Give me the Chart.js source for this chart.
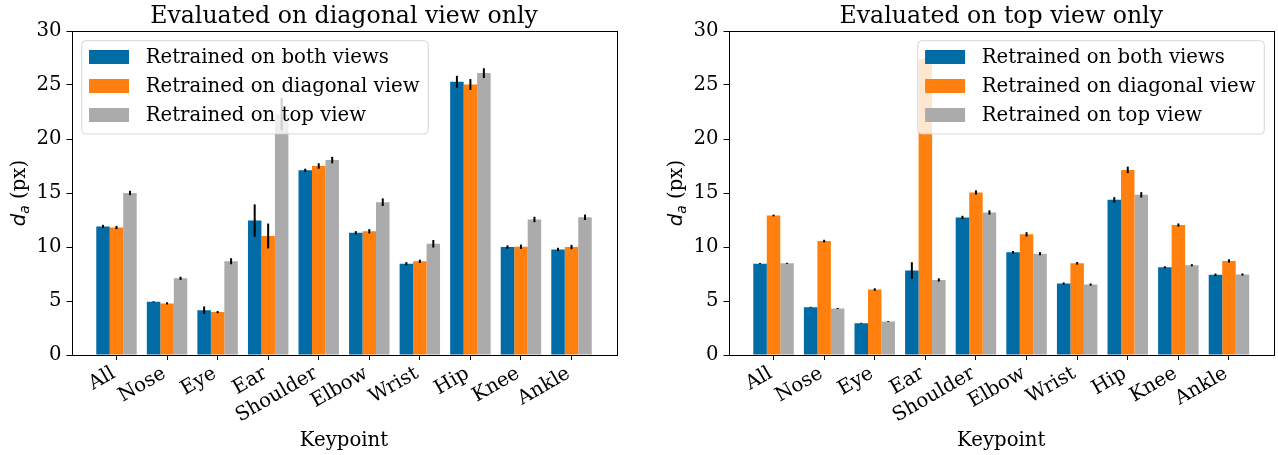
<!DOCTYPE html>
<html>
<head>
<meta charset="utf-8">
<script src="https://cdn.jsdelivr.net/npm/chart.js@4.4.1/dist/chart.umd.min.js"></script>
<style>
  html, body { margin: 0; padding: 0; background: #ffffff; }
  #wrap { display: flex; width: 1278px; height: 455px; }
  canvas { display: block; }
</style>
</head>
<body>
<div id="wrap">
  <canvas id="diagChart" width="639" height="455"></canvas>
  <canvas id="topChart" width="639" height="455"></canvas>
</div>
<script>
// Keypoint categories and series
const keypoints = ['All', 'Nose', 'Eye', 'Ear', 'Shoulder', 'Elbow', 'Wrist', 'Hip', 'Knee', 'Ankle'];
const seriesNames = ['Retrained on both views', 'Retrained on diagonal view', 'Retrained on top view'];
const seriesColors = ['#006BA4', '#FF800E', '#ABABAB'];
const yTickValues = [0, 5, 10, 15, 20, 25, 30];

// Evaluated on diagonal view only: mean d_a (px) and error half-widths
const diagBoth     = [11.9, 4.92, 4.15, 12.45, 17.1, 11.32, 8.45, 25.3, 10.0, 9.78];
const diagBothErr  = [0.15, 0.05, 0.35, 1.5, 0.15, 0.15, 0.15, 0.55, 0.15, 0.15];
const diagDiag     = [11.8, 4.78, 3.97, 11.02, 17.5, 11.45, 8.68, 25.05, 10.02, 10.0];
const diagDiagErr  = [0.15, 0.1, 0.1, 1.15, 0.25, 0.2, 0.15, 0.5, 0.2, 0.2];
const diagTop      = [15.0, 7.1, 8.68, 22.3, 18.05, 14.15, 10.3, 26.1, 12.55, 12.75];
const diagTopErr   = [0.2, 0.15, 0.28, 1.5, 0.3, 0.35, 0.35, 0.45, 0.25, 0.25];

// Evaluated on top view only
const topBoth      = [8.46, 4.43, 2.95, 7.82, 12.74, 9.51, 6.62, 14.37, 8.12, 7.42];
const topBothErr   = [0.05, 0.04, 0.04, 0.77, 0.15, 0.12, 0.1, 0.25, 0.1, 0.12];
const topDiag      = [12.92, 10.55, 6.06, 27.4, 15.05, 11.17, 8.49, 17.14, 12.03, 8.71];
const topDiagErr   = [0.08, 0.12, 0.12, 0.1, 0.2, 0.2, 0.12, 0.3, 0.15, 0.15];
const topTop       = [8.49, 4.31, 3.11, 6.95, 13.2, 9.38, 6.52, 14.83, 8.31, 7.45];
const topTopErr    = [0.05, 0.05, 0.04, 0.15, 0.2, 0.15, 0.1, 0.25, 0.1, 0.1];

const SERIF = '"DejaVu Serif", "Liberation Serif", serif';
const FS = 19.7;
const TITLE_FS = 23.6;

// Error bars, frame, rotated category labels, titles and the boxed legend
const figurePlugin = {
  id: 'figure',
  afterDatasetsDraw(chart) {
    const ctx = chart.ctx;
    const ys = chart.scales.y;
    ctx.save();
    ctx.strokeStyle = '#000';
    ctx.lineWidth = 2;
    chart.data.datasets.forEach((ds, di) => {
      const meta = chart.getDatasetMeta(di);
      meta.data.forEach((bar, i) => {
        const v = ds.data[i].y, e = ds.errors[i];
        ctx.beginPath();
        ctx.moveTo(bar.x, ys.getPixelForValue(v - e));
        ctx.lineTo(bar.x, ys.getPixelForValue(v + e));
        ctx.stroke();
      });
    });
    ctx.restore();
  },
  afterDraw(chart) {
    const o = chart.options.plugins.figure;
    const ctx = chart.ctx;
    const a = chart.chartArea;
    const xs = chart.scales.x;
    ctx.save();

    // axes frame
    ctx.strokeStyle = '#000';
    ctx.lineWidth = 1;
    ctx.strokeRect(Math.round(a.left) + 0.5, Math.round(a.top) + 0.5,
                   Math.round(a.right) - Math.round(a.left), Math.round(a.bottom) - Math.round(a.top));

    const cx = (a.left + a.right) / 2;
    ctx.fillStyle = '#000';

    // category labels, rotated 30 degrees and right-aligned under each tick
    ctx.font = `${FS}px ${SERIF}`;
    const rot = Math.PI / 6;
    const boxH = 1.164 * FS;
    const descent = 0.236 * FS;
    xs.ticks.forEach(t => {
      const px = xs.getPixelForValue(t.value);
      ctx.save();
      ctx.translate(px + 2, a.bottom + 5.8 + boxH * Math.cos(rot));
      ctx.rotate(-rot);
      ctx.textAlign = 'right';
      ctx.textBaseline = 'alphabetic';
      ctx.fillText(keypoints[t.value], 0, -descent);
      ctx.restore();
    });

    // title
    ctx.font = `${TITLE_FS}px ${SERIF}`;
    ctx.textAlign = 'center';
    ctx.textBaseline = 'alphabetic';
    ctx.fillText(o.title, cx, a.top - 8.3);

    // x axis title
    ctx.font = `${FS}px ${SERIF}`;
    ctx.fillText('Keypoint', cx, 446);

    // y axis title: d_a (px)
    ctx.save();
    ctx.translate(a.left - 47, (a.top + a.bottom) / 2);
    ctx.rotate(-Math.PI / 2);
    ctx.textAlign = 'left';
    const fMain = `italic ${FS}px "DejaVu Sans", sans-serif`;
    const fSub = `italic ${FS * 0.7}px "DejaVu Sans", sans-serif`;
    const fRest = `${FS}px ${SERIF}`;
    ctx.font = fMain; const wD = ctx.measureText('d').width;
    ctx.font = fSub; const wA = ctx.measureText('a').width;
    ctx.font = fRest; const wR = ctx.measureText(' (px)').width;
    let x0 = -(wD + wA + wR) / 2;
    ctx.font = fMain; ctx.fillText('d', x0, 0); x0 += wD;
    ctx.font = fSub; ctx.fillText('a', x0, 4); x0 += wA;
    ctx.font = fRest; ctx.fillText(' (px)', x0, 0);
    ctx.restore();

    // legend
    ctx.font = `${FS}px ${SERIF}`;
    const names = chart.data.datasets.map(d => d.label);
    const tw = Math.max(...names.map(n => ctx.measureText(n).width));
    const w = 7.3 + 40 + 16.7 + tw + 8.7;
    const h = 93.3;
    const bx = o.legendSide === 'left' ? a.left + 10.2 : a.right - 9.7 - w;
    const by = a.top + 9.7;
    const r = 4;
    ctx.beginPath();
    ctx.moveTo(bx + r, by);
    ctx.lineTo(bx + w - r, by);
    ctx.quadraticCurveTo(bx + w, by, bx + w, by + r);
    ctx.lineTo(bx + w, by + h - r);
    ctx.quadraticCurveTo(bx + w, by + h, bx + w - r, by + h);
    ctx.lineTo(bx + r, by + h);
    ctx.quadraticCurveTo(bx, by + h, bx, by + h - r);
    ctx.lineTo(bx, by + r);
    ctx.quadraticCurveTo(bx, by, bx + r, by);
    ctx.closePath();
    ctx.fillStyle = 'rgba(255,255,255,0.8)';
    ctx.fill();
    ctx.strokeStyle = 'rgba(204,204,204,0.8)';
    ctx.lineWidth = 1;
    ctx.stroke();
    ctx.textAlign = 'left';
    ctx.textBaseline = 'middle';
    chart.data.datasets.forEach((ds, k) => {
      const cy = by + 16.3 + 29 * k;
      ctx.fillStyle = ds.backgroundColor;
      ctx.fillRect(bx + 7.3, cy - 7, 40, 14);
      ctx.fillStyle = '#000';
      ctx.fillText(ds.label, bx + 64, cy + 1);
    });
    ctx.restore();
  }
};

function makeChart(canvasId, title, legendSide, values, errors, yWidth, padRight) {
  return new Chart(document.getElementById(canvasId), {
    type: 'bar',
    data: {
      datasets: seriesNames.map((name, s) => ({
        label: name,
        data: keypoints.map((k, i) => ({ x: i, y: values[s][i] })),
        errors: errors[s],
        backgroundColor: seriesColors[s],
        borderWidth: 0,
        categoryPercentage: 0.8,
        barPercentage: 1.0
      }))
    },
    options: {
      responsive: false,
      animation: false,
      events: [],
      layout: { padding: { left: 0, right: padRight, top: 31, bottom: 0 } },
      plugins: {
        legend: { display: false },
        tooltip: { enabled: false },
        figure: { title: title, legendSide: legendSide }
      },
      scales: {
        x: {
          type: 'linear',
          min: -0.89,
          max: 9.89,
          offset: false,
          afterBuildTicks: ax => { ax.ticks = keypoints.map((k, i) => ({ value: i })); },
          afterFit: ax => { ax.height = 100; },
          grid: { display: true, offset: false, drawOnChartArea: false, drawTicks: true,
                  tickLength: 5, tickColor: '#000', tickWidth: 1 },
          border: { display: false },
          ticks: { display: false, autoSkip: false, maxRotation: 0 }
        },
        y: {
          min: 0,
          max: 30,
          afterBuildTicks: ax => { ax.ticks = yTickValues.map(v => ({ value: v })); },
          afterFit: ax => { ax.width = yWidth; },
          grid: { display: true, drawOnChartArea: false, drawTicks: true,
                  tickLength: 5, tickColor: '#000', tickWidth: 1 },
          border: { display: false },
          ticks: { padding: 5, color: '#000', font: { family: SERIF, size: FS } }
        }
      }
    },
    plugins: [figurePlugin]
  });
}

makeChart('diagChart', 'Evaluated on diagonal view only', 'left',
  [diagBoth, diagDiag, diagTop], [diagBothErr, diagDiagErr, diagTopErr], 71.5, 22.5);
makeChart('topChart', 'Evaluated on top view only', 'right',
  [topBoth, topDiag, topTop], [topBothErr, topDiagErr, topTopErr], 89.5, 4);
</script>
</body>
</html>
